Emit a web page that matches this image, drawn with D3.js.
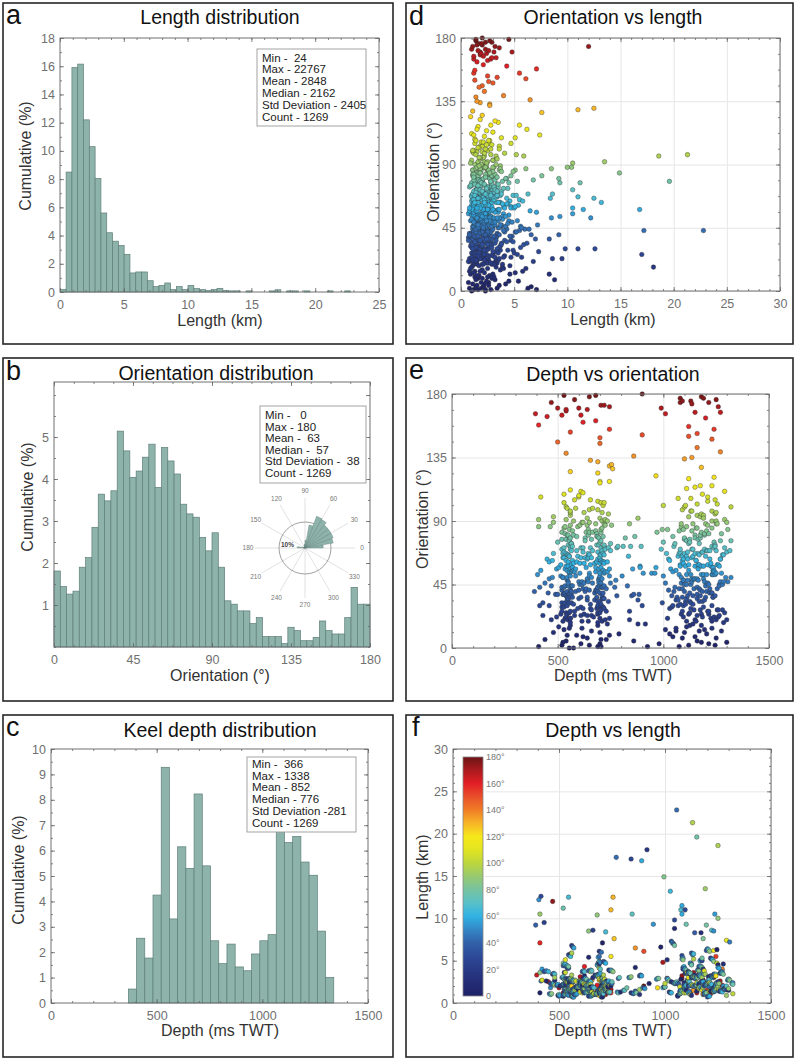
<!DOCTYPE html>
<html><head><meta charset="utf-8">
<script src="https://cdn.jsdelivr.net/npm/d3@7"></script>
<style>
body{margin:0;background:#fff}
svg{display:block}
text{font-family:"Liberation Sans",Arial,Helvetica,sans-serif}
</style>
</head><body>
<svg id="chart" width="798" height="1060"></svg>
<script>
// ---------------- DATA ----------------
// Histogram a: length (km), 50 bins from min 0.024 to max 22.767, % of count
const lenBinStart = 0.024, lenBinWidth = 0.45486;
const lenBins = [0.19,8.5,15.9,16.15,12.2,10.3,8.05,5.6,4.2,3.6,3.3,2.67,1.35,1.42,1.42,0.8,0.38,0.47,0.64,0.17,
  0.38,0.17,0.47,0.24,0.17,0.1,0.17,0.26,0.1,0.08,0.08,0,0.08,0,0,0,0.08,0.16,0,0.08,
  0.08,0,0.08,0,0,0,0.08,0,0,0.08];
// Histogram b: orientation (deg), 50 bins of 3.6 deg
const oriBinStart = 0, oriBinWidth = 3.6;
const oriBins = [1.81,1.44,1.26,1.33,1.9,2.13,2.85,3.64,3.48,3.72,5.14,4.67,4.04,4.19,4.52,4.83,3.8,4.75,4.43,4.12,
  3.4,3.17,3.09,2.61,2.29,2.72,1.9,1.1,1.02,0.86,0.86,0.56,0.7,0.25,0.25,0.25,0.08,0.47,0.39,0.15,
  0.15,0.23,0.62,0.39,0.31,0.31,0.7,1.42,1.02,1.02];
// Histogram c: keel depth (ms TWT), 25 bins from 366 to 1338
const depBinStart = 366, depBinWidth = 38.88;
const depBins = [0.55,2.55,1.77,4.25,9.28,3.31,6.15,5.3,8.23,5.4,2.45,1.55,2.32,1.42,1.27,1.93,2.45,2.69,8.5,6.32,6.56,5.55,5.03,2.83,1.01];

// Rose inset (10 deg bins, 0-180), % of count
const roseVals = [7,11,11.5,11.5,11.5,12.7,13,9,3,1.5,1,0.5,0.3,0.3,0.3,0.5,0.8,3];
const roseLabels = [0,30,60,90,120,150,180,210,240,270,300,330];

// Statistics boxes
const statsA = ["Min -  24","Max - 22767","Mean - 2848","Median - 2162","Std Deviation - 2405","Count - 1269"];
const statsB = ["Min -   0","Max - 180","Mean -  63","Median -  57","Std Deviation -  38","Count - 1269"];
const statsC = ["Min -  366","Max - 1338","Mean - 852","Median - 776","Std Deviation -281","Count - 1269"];

// Fractures: [length km, orientation deg, depth ms TWT], grouped by orientation band
const B0 = [[1.2,1,410],[2.3,0,555],[0.8,2,520],[2.1,3,610],[1.6,1,690],[3.4,2,1120],[2.6,4,1180],[6.3,2,1245],[7.1,1,705],[6.6,3,980],
 [1.1,5,540],[1.9,6,730],[2.4,7,1090],[4.2,5,860],[1.4,8,1150],[2.9,9,545],[5.4,7,640],[3.1,10,1205],[1.7,11,700],[0.9,12,1060],
 [2.2,13,530],[4.6,12,1275],[1.3,14,615],[3.7,15,1110],[2.5,16,560],[1.8,14,1230],[6.1,16,690],[1.0,17,880],[3.3,17,1140],[2.7,11,480],
 [8.3,12,1170],[8.8,8,1045],[1.5,4,1300],[2.0,9,745],[5.1,13,1010]];
const B1 = [[1.2,19,525],[2.4,20,548],[0.7,21,700],[3.5,22,1095],[1.8,23,1160],[2.9,19,615],[1.5,24,690],[4.1,25,540],[2.2,26,1210],[1.0,27,660],
 [3.0,28,1130],[1.7,29,530],[2.6,30,705],[5.6,31,1080],[1.3,32,555],[2.0,33,1185],[3.8,34,640],[1.4,35,720],[2.5,20,1250],[0.9,22,495],
 [4.7,24,1120],[1.9,26,580],[3.3,28,685],[1.1,30,1070],[2.8,32,535],[6.2,34,1195],[1.6,36,610],[2.3,21,745],[3.6,23,1265],[1.2,25,690],
 [2.1,27,1145],[4.4,29,520],[1.5,31,655],[2.7,33,1105],[1.8,35,715],[3.1,19,1230],[0.8,21,560],[2.0,24,625],[5.0,27,1175],[1.4,30,545],
 [2.9,33,700],[1.7,36,1090],[3.4,20,470],[2.2,22,1240],[1.3,26,730],[7.3,28,1030],[2.6,31,530],[1.0,34,675],[3.9,19,1155],[2.4,23,610],
 [1.6,25,1290],[4.9,29,690],[1.9,32,995],[2.8,35,550],[1.2,20,840],[3.2,24,1215],[2.1,28,595],[1.4,31,705],[5.9,33,1125],[2.5,36,640],
 [1.1,22,1185],[3.0,26,520],[1.8,30,900],[2.3,34,1060],[6.8,21,560],[1.5,27,1255],[2.0,29,715],[3.7,32,430],[1.3,35,1110],[8.6,23,660],
 [9.5,23,430]];
const B2 = [[1.3,37,540],[2.5,38,555],[0.9,39,700],[3.6,40,1100],[1.7,41,1175],[2.8,42,620],[1.5,43,690],[4.3,44,535],[2.1,45,1215],[1.1,46,665],
 [3.2,47,1135],[1.8,48,545],[2.7,49,710],[5.3,50,1085],[1.4,51,560],[2.2,52,1190],[3.9,53,650],[1.6,54,725],[2.4,37,1245],[0.8,38,500],
 [4.6,39,1125],[2.0,40,585],[3.4,41,685],[1.2,42,1075],[2.9,43,530],[6.4,44,1200],[1.7,45,615],[2.3,46,750],[3.7,47,1270],[1.3,48,695],
 [2.2,49,1150],[4.5,50,525],[1.5,51,650],[2.6,52,1110],[1.9,53,720],[3.3,36,1235],[0.7,38,565],[2.1,40,630],[5.1,42,1170],[1.4,44,550],
 [3.0,46,705],[1.8,48,1095],[3.5,50,475],[2.3,52,1245],[1.2,54,735],[7.0,37,1040],[2.5,39,535],[1.0,41,680],[4.0,43,1160],[2.4,45,605],
 [1.6,47,1285],[4.8,49,695],[1.9,51,1000],[2.8,53,555],[1.1,37,850],[3.1,39,1220],[2.0,41,600],[1.5,43,710],[5.7,45,1130],[2.6,47,645],
 [1.2,49,1190],[3.0,51,515],[1.7,53,905],[2.2,36,1065],[6.6,40,565],[1.4,42,1255],[2.1,44,720],[3.8,46,440],[1.3,48,1115],[0.9,50,545],
 [2.7,52,1205],[1.6,38,525],[3.4,40,690],[2.0,42,1145],[1.1,44,570],[4.2,46,1085],[2.4,48,640],[1.8,50,700],[3.6,52,1180],[1.5,54,555],
 [2.9,37,780],[1.3,39,1230],[2.2,41,520],[5.5,43,690],[1.7,45,1100],[2.5,47,600],[3.2,49,1160],[1.0,51,700],[2.0,53,1275],[4.1,36,545],
 [1.4,38,860],[2.3,40,1050],[6.0,44,700],[1.9,46,1210],[8.3,37,1140],[9.2,40,390],[8.5,52,1230],[9.3,53,945],[7.2,47,1305],[2.6,43,415],
 [1.8,49,460]];
const B3 = [[1.4,55,545],[2.6,56,560],[0.8,57,705],[3.5,58,1105],[1.8,59,1170],[2.9,60,625],[1.5,61,685],[4.4,62,540],[2.2,63,1220],[1.0,64,660],
 [3.1,65,1140],[1.7,66,550],[2.6,67,715],[5.2,68,1080],[1.3,69,565],[2.1,70,1195],[3.8,71,655],[1.5,72,720],[2.3,55,1240],[0.9,57,505],
 [4.7,59,1120],[1.9,61,590],[3.3,63,690],[1.1,65,1070],[2.8,67,525],[6.3,69,1205],[1.6,71,620],[2.4,56,745],[3.6,58,1265],[1.2,60,700],
 [2.3,62,1155],[4.6,64,530],[1.4,66,645],[2.5,68,1115],[2.0,70,725],[3.2,72,1230],[0.7,55,570],[2.0,57,635],[5.0,59,1165],[1.5,61,550],
 [2.9,63,700],[1.9,65,1090],[3.4,67,480],[2.2,69,1250],[1.3,71,740],[7.1,56,1035],[2.4,58,540],[1.1,60,675],[3.9,62,1155],[2.5,64,610],
 [1.7,66,1280],[4.9,68,690],[1.8,70,990],[2.7,72,560],[1.2,56,855],[3.0,58,1225],[2.1,60,605],[1.6,62,705],[5.8,64,1135],[2.5,66,650],
 [1.3,68,1185],[3.1,70,520],[1.8,72,895],[2.3,55,1060],[6.5,57,570],[1.5,59,1260],[2.0,61,715],[3.7,63,450],[1.2,65,1110],[1.0,67,540],
 [2.8,69,1210],[1.6,71,530],[3.5,56,695],[2.1,58,1150],[1.2,60,575],[4.3,62,1090],[2.3,64,645],[1.7,66,705],[3.4,68,1185],[1.4,70,560],
 [3.0,72,785],[1.4,57,1235],[2.1,59,515],[5.4,61,685],[1.6,63,1095],[2.6,65,595],[3.3,67,1165],[1.1,69,710],[2.0,71,1290],[4.0,55,420],
 [8.4,66,720],[8.6,69,1220],[11.0,67,1075],[12.5,66,545],[13.2,63,1025],[16.8,58,890],[10.5,59,1080],[11.5,58,1080],[10.5,55,1235]];
const B4 = [[1.5,73,550],[2.7,74,565],[0.9,75,700],[3.4,76,1110],[1.9,77,1165],[2.8,78,630],[1.6,79,690],[4.3,80,545],[2.3,81,1215],[1.1,82,665],
 [3.2,83,1135],[1.8,84,555],[2.5,85,710],[5.1,86,1085],[1.4,87,560],[2.2,88,1200],[3.7,89,650],[1.6,90,725],[2.4,73,1245],[1.0,75,500],
 [4.5,77,1125],[2.0,79,590],[3.1,81,685],[1.2,83,1075],[2.7,85,530],[6.1,87,1210],[1.7,89,620],[2.5,74,750],[3.5,76,1270],[1.3,78,695],
 [2.1,80,1150],[4.7,82,520],[1.5,84,645],[2.6,86,1110],[1.9,88,720],[3.3,90,1230],[0.8,74,565],[2.0,76,630],[5.3,78,1175],[1.5,80,550],
 [2.9,82,705],[1.8,84,1095],[3.6,86,410],[2.3,88,1255],[1.3,90,735],[6.8,79,1045],[2.5,81,535],[1.1,83,680],[3.8,85,1160],[2.4,87,605],
 [1.7,89,1300],[4.0,73,695],[1.9,75,1000],[2.8,77,555],[1.2,79,865],[7.6,82,1180],[8.5,87,640],[9.2,80,1195],[9.3,77,1100],[11.2,77,520],
 [10.5,72,845],[14.9,84,995],[19.6,78,1150],[10.0,88,1250],[10.4,88,680],[10.5,91,410]];
const B5 = [[1.6,91,540],[2.5,92,700],[1.0,93,1120],[3.3,94,560],[1.8,95,1180],[2.2,96,625],[1.4,97,1230],[4.1,98,690],[2.0,99,545],[1.2,100,1100],
 [2.8,101,715],[1.7,102,1160],[3.6,103,530],[2.4,104,1210],[1.3,105,655],[1.9,106,1070],[2.6,107,600],[0.9,91,1290],[3.0,93,480],[2.1,95,740],
 [5.2,97,1135],[1.5,99,585],[2.3,101,1000],[1.8,103,705],[4.7,105,1245],[2.7,107,420],[1.6,92,880],[3.4,94,1190],[2.2,98,650],[1.1,100,1320],
 [5.9,96,560],[13.5,92,1190],[21.3,97,1130],[18.6,96,1250]];
const B6 = [[1.0,112,560],[1.5,115,1175],[2.8,118,700],[3.5,120,1120],[5.5,118,745],[6.2,115,1230],[7.4,111,1290],[5.1,109,530],[1.8,122,965],[0.9,124,690],[3.0,113,1110],[2.2,110,620]];
const B7 = [[7.6,127,760],[11.0,129,745],[12.5,130,755],[1.5,135,1135],[2.7,133,655],[4.0,139,1270],[6.5,136,860]];
const B8 = [[1.3,150,1120],[2.0,146,500],[2.6,149,700],[3.4,152,1160],[4.3,160,620],[5.5,155,1240],[6.1,151,900],[7.1,158,410],[1.2,155,745]];
const B9 = [[1.2,165,520],[1.8,168,540],[2.3,172,705],[1.5,175,1090],[2.7,178,1180],[3.1,170,600],[1.9,176,1250],[2.5,164,450],[3.6,173,1135],[1.4,179,680],
 [2.1,167,1270],[4.8,170,990],[4.5,179,530],[1.6,171,745],[2.9,177,1080],[3.3,166,395],[1.1,174,1215],[2.4,169,640],[12.0,174,470],[2.0,180,900]];
const OUT = [[22.8,43,1055],[17.2,43,770],[17.0,26,840],[18.1,17,915],[12.6,30,415],[12.2,52,405],[11.0,30,1095],[9.8,30,1045]];
// additional fractures in the dense core
const C0 = [[1.0,0,575],[1.9,2,650],[2.8,1,1075],[1.4,3,1215],[3.6,4,525],[2.2,5,1160],[0.7,6,705],[4.5,7,1250],[1.6,9,590],[2.5,10,1030],
 [3.0,12,660],[1.2,13,1195],[2.0,15,505],[0.9,16,1125],[3.9,17,735],[1.7,18,1285],[2.6,6,440],[1.3,10,790],[5.8,14,555],[2.3,1,925],
 [1.5,11,1100],[3.2,8,620],[0.8,14,1060],[2.1,3,700],[4.0,16,1180]];
const C1 = [[1.1,18,560],[2.0,19,710],[3.1,20,1150],[1.5,21,1225],[2.6,22,540],[0.8,23,640],[4.0,24,1085],[1.9,25,700],[2.4,26,560],[3.5,27,1260],
 [1.2,28,620],[2.2,29,1190],[1.6,30,690],[2.9,31,1140],[0.9,32,520],[3.8,33,740],[1.4,34,1070],[2.5,35,600],[1.8,36,1235],[4.6,18,690],
 [2.1,19,1110],[1.3,21,535],[3.3,22,670],[1.0,24,1180],[2.7,25,555],[5.3,26,1215],[1.7,28,720],[2.3,30,460],[3.6,31,1105],[1.1,33,690],
 [2.0,34,545],[4.3,35,1160],[1.5,19,645],[2.8,20,1300],[1.9,23,580],[3.0,25,1125],[1.2,27,705],[2.4,29,1040],[1.6,32,565],[3.2,34,880],
 [0.7,36,1200],[2.6,20,725],[1.4,22,1260],[5.7,24,545],[2.2,26,1090],[1.8,28,655],[3.4,30,1230],[1.0,31,575],[2.5,33,1170],[4.9,35,710],
 [1.3,21,1020],[2.1,24,515],[1.7,27,1280],[3.7,29,610],[2.0,32,1130]];
const C2 = [[1.2,36,560],[2.3,37,710],[3.3,38,1160],[1.6,39,1230],[2.7,40,545],[0.8,41,650],[4.1,42,1090],[1.8,43,705],[2.5,44,565],[3.6,45,1265],
 [1.3,46,625],[2.1,47,1195],[1.7,48,695],[2.9,49,1145],[1.0,50,525],[3.9,51,745],[1.5,52,1075],[2.4,53,605],[1.9,54,1240],[4.7,36,685],
 [2.0,37,1115],[1.4,38,530],[3.2,39,675],[1.1,40,1185],[2.6,41,560],[5.2,42,1220],[1.6,43,715],[2.2,44,470],[3.5,45,1110],[1.2,46,695],
 [2.1,47,550],[4.4,48,1165],[1.5,49,640],[2.7,50,1295],[1.8,51,585],[3.1,52,1130],[1.3,53,700],[2.3,54,1045],[1.7,36,570],[3.3,38,885],
 [0.8,40,1205],[2.5,42,730],[1.4,44,1265],[5.6,46,550],[2.0,48,1095],[1.9,50,660],[3.4,52,1235],[1.0,54,580],[2.6,37,1175],[4.8,39,715],
 [1.2,41,1025],[2.2,43,520],[1.6,45,1280],[3.8,47,615],[2.0,49,1135],[1.5,51,805],[2.8,53,960],[1.1,39,455],[3.0,44,830],[2.4,50,1320],
 [1.7,42,635],[2.9,46,1010],[1.3,48,775],[4.2,53,1250],[2.1,38,490]];
const C3 = [[1.3,54,565],[2.4,55,715],[3.2,56,1165],[1.5,57,1235],[2.8,58,550],[0.9,59,655],[4.0,60,1095],[1.9,61,710],[2.6,62,570],[3.5,63,1270],
 [1.2,64,630],[2.2,65,1200],[1.6,66,700],[3.0,67,1150],[1.0,68,530],[3.8,69,750],[1.4,70,1080],[2.5,71,610],[1.8,72,1245],[4.5,54,680],
 [2.1,55,1120],[1.3,56,535],[3.3,57,680],[1.1,58,1190],[2.7,59,565],[5.1,60,1225],[1.7,61,720],[2.3,62,475],[3.6,63,1115],[1.2,64,700],
 [2.0,65,555],[4.3,66,1170],[1.5,67,645],[2.8,68,1300],[1.9,69,590],[3.1,70,1135],[1.4,71,705],[2.4,72,1050],[1.7,55,575],[3.2,57,890],
 [0.8,59,1210],[2.6,61,735],[1.3,63,1270],[5.5,65,555],[2.1,67,1100],[1.8,69,665],[3.4,71,1240],[1.1,56,585],[2.5,58,1180],[4.7,60,720],
 [1.2,62,1030],[2.2,64,525],[1.6,66,1285],[3.7,68,620],[2.0,70,1140],[1.5,72,810],[2.9,57,965],[1.0,61,460],[3.0,65,835],[2.3,69,1315],
 [1.6,63,640],[2.8,67,1015],[1.2,71,780],[4.1,59,1255],[2.2,56,495]];
const C4 = [[1.4,72,570],[2.5,73,720],[3.1,74,1170],[1.6,75,1240],[2.9,76,555],[1.0,77,660],[3.9,78,1100],[2.0,79,715],[2.7,80,575],[3.4,81,1275],
 [1.3,82,635],[2.3,83,1205],[1.7,84,705],[3.0,85,1155],[1.1,86,535],[3.7,87,755],[1.5,88,1085],[2.4,89,615],[1.9,90,1250],[4.4,73,685],
 [2.2,75,1125],[1.4,77,540],[3.2,79,685],[1.2,81,1195],[2.6,83,570],[4.9,85,1230],[1.8,87,725],[2.1,89,480],[3.5,74,1120],[1.3,76,705],
 [2.0,78,560],[4.2,80,1175],[1.6,82,650],[2.7,84,1305],[1.9,86,595],[3.0,88,1140],[1.5,90,710],[2.5,74,1055],[1.8,78,820],[2.9,82,970],
 [1.1,86,465],[3.1,88,840],[2.2,76,1320],[1.7,80,645],[2.6,84,1020]];
const C5 = [[1.5,90,575],[2.4,91,725],[3.0,93,1175],[1.7,95,1245],[2.8,97,560],[1.1,99,665],[3.6,101,1105],[2.0,103,720],[2.6,105,580],[1.4,107,1210],
 [2.2,92,640],[1.8,94,1160],[3.3,96,710],[1.2,98,1090],[2.5,100,540],[1.6,102,1255],[2.9,104,690],[2.1,106,1130],[1.3,108,600],[3.8,109,1185]];
const C6 = [[1.2,111,610],[2.4,114,1150],[1.6,117,700],[3.2,121,1240],[2.0,125,560],[1.1,128,1180],[2.7,132,690],[1.8,134,1100]];
const C7 = [[1.4,138,540],[2.2,142,1160],[1.7,145,700],[3.0,148,1230],[2.5,153,560],[1.3,157,1120],[2.1,161,680],[1.5,163,1200],[2.8,165,610],[1.2,167,1150],
 [1.9,169,540],[2.6,171,1260],[1.0,172,720],[3.2,174,1080],[1.6,176,580],[2.3,177,1190],[1.4,178,650],[2.0,175,1130],[1.8,170,500],[2.9,166,1010]];

// Colour map (orientation, deg)
const cmapDeg = [0,10,20,30,40,50,60,70,80,90,100,110,120,130,140,150,160,170,180];
const cmapCol = ["#1e2266","#232c75","#283a86","#2d4a98","#3260a9","#3487c6","#30b2e3","#58c0c9","#76c3a1","#97c970",
                 "#bcd63d","#e2e421","#f6e81a","#f7b527","#f07d26","#e9502a","#e21f26","#ab1a1e","#6b1516"];
const cbTicks = [0,20,40,60,80,100,120,140,160,180];

// ---------------- DRAWING ----------------
const svg = d3.select("#chart");
const FONT = '"Liberation Sans", Arial, Helvetica, sans-serif';
const BAR_FILL = "#8db3ab", BAR_STROKE = "#5f7f79";
const color = d3.scaleLinear().domain(cmapDeg).range(cmapCol).clamp(true);
const pts = d3.sort([].concat(B0,B1,B2,B3,B4,B5,B6,B7,B8,B9,OUT,C0,C1,C2,C3,C4,C5,C6,C7), d=>d[2]);
// drawing order for panel f: high-angle (reddish) fractures first, rest by depth
const ptsF = [].concat(pts.filter(d=>d[1]>=130), pts.filter(d=>d[1]<130));

function panelFrame(x0,y0,x1,y1,letter,lx,ly){
  svg.append("rect").attr("x",x0).attr("y",y0).attr("width",x1-x0).attr("height",y1-y0)
    .attr("fill","none").attr("stroke","#262626").attr("stroke-width",1.6);
  svg.append("text").attr("x",lx).attr("y",ly).attr("font-size",27).attr("fill","#111").text(letter);
}
function title(t,cx,y){ svg.append("text").attr("x",cx).attr("y",y).attr("text-anchor","middle").attr("font-size",19.5).attr("fill","#111").text(t); }
function xTitle(t,cx,y){ svg.append("text").attr("x",cx).attr("y",y).attr("text-anchor","middle").attr("font-size",16).attr("fill","#333").text(t); }
function yTitle(t,cx,cy){ svg.append("text").attr("transform",`translate(${cx},${cy}) rotate(-90)`).attr("dy","0.35em").attr("text-anchor","middle").attr("font-size",16).attr("fill","#333").text(t); }

function styleAxis(sel){
  sel.select(".domain").remove();
  sel.selectAll("line").attr("stroke","#666").attr("stroke-width",0.8);
  sel.selectAll("text").attr("fill","#707070").attr("font-size",12.5).attr("font-family",FONT);
}
function grid(P){
  const g = svg.append("g");
  g.append("g").attr("transform",`translate(0,${P.b})`)
   .call(d3.axisBottom(P.x).tickValues(P.xMajor).tickSize(-(P.b-P.t)).tickFormat(""))
   .call(s=>{s.select(".domain").remove(); s.selectAll("line").attr("stroke","#e6e6e6").attr("stroke-width",1);});
  g.append("g").attr("transform",`translate(${P.l},0)`)
   .call(d3.axisLeft(P.y).tickValues(P.yMajor).tickSize(-(P.r-P.l)).tickFormat(""))
   .call(s=>{s.select(".domain").remove(); s.selectAll("line").attr("stroke","#e6e6e6").attr("stroke-width",1);});
}
function axes(P){
  const g = svg.append("g");
  const fmt = d3.format("d");
  g.append("g").attr("transform",`translate(0,${P.b})`).call(d3.axisBottom(P.x).tickValues(P.xMajor).tickSize(-4).tickPadding(8).tickFormat(fmt)).call(styleAxis);
  g.append("g").attr("transform",`translate(0,${P.b})`).call(d3.axisBottom(P.x).tickValues(P.xMinor).tickSize(-2).tickFormat("")).call(styleAxis);
  g.append("g").attr("transform",`translate(0,${P.t})`).call(d3.axisTop(P.x).tickValues(P.xMajor).tickSize(-4).tickFormat("")).call(styleAxis);
  g.append("g").attr("transform",`translate(0,${P.t})`).call(d3.axisTop(P.x).tickValues(P.xMinor).tickSize(-2).tickFormat("")).call(styleAxis);
  g.append("g").attr("transform",`translate(${P.l},0)`).call(d3.axisLeft(P.y).tickValues(P.yLabels||P.yMajor).tickSize(-4).tickPadding(5).tickFormat(fmt)).call(styleAxis);
  g.append("g").attr("transform",`translate(${P.l},0)`).call(d3.axisLeft(P.y).tickValues(P.yMinor).tickSize(-2).tickFormat("")).call(styleAxis);
  g.append("g").attr("transform",`translate(${P.r},0)`).call(d3.axisRight(P.y).tickValues(P.yMajor).tickSize(-4).tickFormat("")).call(styleAxis);
  g.append("g").attr("transform",`translate(${P.r},0)`).call(d3.axisRight(P.y).tickValues(P.yMinor).tickSize(-2).tickFormat("")).call(styleAxis);
  g.append("rect").attr("x",P.l).attr("y",P.t).attr("width",P.r-P.l).attr("height",P.b-P.t)
   .attr("fill","none").attr("stroke","#707070").attr("stroke-width",1);
}
function bars(P,vals,start,w){
  svg.append("g").selectAll("rect").data(vals).join("rect")
    .attr("x",(d,i)=>P.x(start+i*w))
    .attr("width",(d,i)=>P.x(start+(i+1)*w)-P.x(start+i*w))
    .attr("y",d=>P.y(d)).attr("height",d=>P.y(0)-P.y(d))
    .attr("fill",BAR_FILL).attr("stroke",BAR_STROKE).attr("stroke-width",0.7);
}
function statsBox(lines,x0,y0,x1,y1,firstBase,step){
  svg.append("rect").attr("x",x0).attr("y",y0).attr("width",x1-x0).attr("height",y1-y0)
    .attr("fill","#fff").attr("stroke","#9a9a9a").attr("stroke-width",0.9);
  svg.append("g").selectAll("text").data(lines).join("text")
    .attr("x",x0+5).attr("y",(d,i)=>firstBase+i*step).attr("font-size",11.5).attr("fill","#222")
    .style("white-space","pre").text(d=>d);
}
function rng(a,b,s){ const out=[]; for(let v=a; v<=b+1e-9; v+=s) out.push(+v.toFixed(4)); return out; }
function dots(P,data,fx,fy){
  svg.append("g").selectAll("circle").data(data).join("circle")
    .attr("cx",d=>P.x(fx(d))).attr("cy",d=>P.y(fy(d))).attr("r",2.3)
    .attr("fill",d=>color(d[1])).attr("stroke","#2b2b2b").attr("stroke-opacity",0.75).attr("stroke-width",0.5);
}

// ---- Panel a
panelFrame(3,3,393,344,"a",6,24);
title("Length distribution",220,24);
{
  const P={l:60,r:379,t:38,b:292};
  P.x=d3.scaleLinear().domain([0,25]).range([P.l,P.r]);
  P.y=d3.scaleLinear().domain([0,18]).range([P.b,P.t]);
  P.xMajor=rng(0,25,5); P.xMinor=rng(0,25,1); P.yMajor=rng(0,18,2); P.yMinor=rng(0,18,1);
  bars(P,lenBins,lenBinStart,lenBinWidth);
  axes(P);
  statsBox(statsA,257,49,366,126,61.5,11.9);
}
xTitle("Length (km)",220,326);
yTitle("Cumulative (%)",25,156);

// ---- Panel b
panelFrame(3,358,393,701,"b",6,380);
title("Orientation distribution",216,380);
{
  const P={l:54,r:370,t:382,b:647};
  P.x=d3.scaleLinear().domain([0,180]).range([P.l,P.r]);
  P.y=d3.scaleLinear().domain([0,6.31]).range([P.b,P.t]);
  P.xMajor=rng(0,180,45); P.xMinor=rng(0,180,11.25); P.yMajor=rng(1,6,1); P.yLabels=rng(1,5,1); P.yMinor=rng(0,6,0.5);
  bars(P,oriBins,oriBinStart,oriBinWidth);
  axes(P);
  statsBox(statsB,260,406,366,483,419,11.6);
  // rose inset
  const cx=305, cy=548, r10=26;
  const rs=d3.scaleLinear().domain([0,10]).range([0,r10]);
  const rg=svg.append("g").attr("transform",`translate(${cx},${cy})`);
  rg.selectAll("line").data(roseLabels).join("line")
    .attr("x1",0).attr("y1",0)
    .attr("x2",d=>50*Math.cos(d*Math.PI/180)).attr("y2",d=>-50*Math.sin(d*Math.PI/180))
    .attr("stroke","#cfcfcf").attr("stroke-width",0.6);
  rg.append("circle").attr("r",r10).attr("fill","none").attr("stroke","#8a8a8a").attr("stroke-width",0.8);
  const arc=d3.arc().innerRadius(0);
  rg.selectAll("path").data(roseVals).join("path")
    .attr("d",(v,i)=>arc({outerRadius:rs(v),startAngle:Math.PI/2-(i+1)*10*Math.PI/180,endAngle:Math.PI/2-i*10*Math.PI/180}))
    .attr("fill",BAR_FILL).attr("stroke",BAR_STROKE).attr("stroke-width",0.4);
  rg.selectAll("text.rl").data(roseLabels).join("text").attr("class","rl")
    .attr("x",d=>57*Math.cos(d*Math.PI/180)).attr("y",d=>-57*Math.sin(d*Math.PI/180))
    .attr("dy","0.35em").attr("text-anchor","middle").attr("font-size",6.5).attr("fill","#777").text(d=>d);
  rg.append("text").attr("x",-24).attr("y",-1).attr("font-size",6.5).attr("font-weight","bold").attr("fill","#444").text("10%");
}
xTitle("Orientation (°)",220,681);
yTitle("Cumulative (%)",27,497);

// ---- Panel c
panelFrame(3,715,393,1057,"c",6,736);
title("Keel depth distribution",220,737);
{
  const P={l:51,r:368,t:749,b:1003};
  P.x=d3.scaleLinear().domain([0,1500]).range([P.l,P.r]);
  P.y=d3.scaleLinear().domain([0,10]).range([P.b,P.t]);
  P.xMajor=rng(0,1500,500); P.xMinor=rng(0,1500,100); P.yMajor=rng(0,10,1); P.yMinor=rng(0,10,0.5);
  bars(P,depBins,depBinStart,depBinWidth);
  axes(P);
  statsBox(statsC,247,757,356,832,768,11.7);
}
xTitle("Depth (ms TWT)",220,1036);
yTitle("Cumulative (%)",18,870);

// ---- Panel d
panelFrame(406,3,793,344,"d",409,25);
title("Orientation vs length",613,24);
{
  const P={l:461,r:780,t:38,b:291};
  P.x=d3.scaleLinear().domain([0,30]).range([P.l,P.r]);
  P.y=d3.scaleLinear().domain([0,180]).range([P.b,P.t]);
  P.xMajor=rng(0,30,5); P.xMinor=rng(0,30,1); P.yMajor=rng(0,180,45); P.yMinor=rng(0,180,11.25);
  grid(P);
  dots(P,pts,d=>d[0],d=>d[1]);
  axes(P);
}
xTitle("Length (km)",613,325);
yTitle("Orientation (°)",433,172);

// ---- Panel e
panelFrame(406,358,793,701,"e",409,379);
title("Depth vs orientation",613,381);
{
  const P={l:452,r:769,t:394,b:648};
  P.x=d3.scaleLinear().domain([0,1500]).range([P.l,P.r]);
  P.y=d3.scaleLinear().domain([0,180]).range([P.b,P.t]);
  P.xMajor=rng(0,1500,500); P.xMinor=rng(0,1500,100); P.yMajor=rng(0,180,45); P.yMinor=rng(0,180,11.25);
  grid(P);
  dots(P,pts,d=>d[2],d=>d[1]);
  axes(P);
}
xTitle("Depth (ms TWT)",613,681);
yTitle("Orientation (°)",422,519);

// ---- Panel f
panelFrame(406,715,793,1057,"f",412,736);
title("Depth vs length",613,737);
{
  const P={l:453,r:771,t:749,b:1003};
  P.x=d3.scaleLinear().domain([0,1500]).range([P.l,P.r]);
  P.y=d3.scaleLinear().domain([0,30]).range([P.b,P.t]);
  P.xMajor=rng(0,1500,500); P.xMinor=rng(0,1500,100); P.yMajor=rng(0,30,5); P.yMinor=rng(0,30,1);
  grid(P);
  dots(P,ptsF,d=>d[2],d=>d[0]);
  // colour bar
  svg.append("rect").attr("x",P.l+1).attr("y",P.t+1).attr("width",31).attr("height",P.b-P.t-2).attr("fill","#fff");
  const cb=d3.scaleLinear().domain([0,180]).range([996,757]);
  const grad=svg.append("defs").append("linearGradient").attr("id","cbg").attr("x1",0).attr("y1",1).attr("x2",0).attr("y2",0);
  grad.selectAll("stop").data(cmapDeg).join("stop").attr("offset",d=>d/180).attr("stop-color",d=>color(d));
  svg.append("rect").attr("x",463).attr("y",cb(180)).attr("width",20).attr("height",cb(0)-cb(180))
    .attr("fill","url(#cbg)").attr("stroke","#888").attr("stroke-width",0.8);
  svg.append("g").selectAll("text").data(cbTicks).join("text")
    .attr("x",486).attr("y",d=>cb(d)).attr("dy","0.35em").attr("font-size",9).attr("fill","#777")
    .text(d=>d===0?"0":d+"°");
  axes(P);
}
xTitle("Depth (ms TWT)",613,1036);
yTitle("Length (km)",422,877);
</script>
</body></html>
